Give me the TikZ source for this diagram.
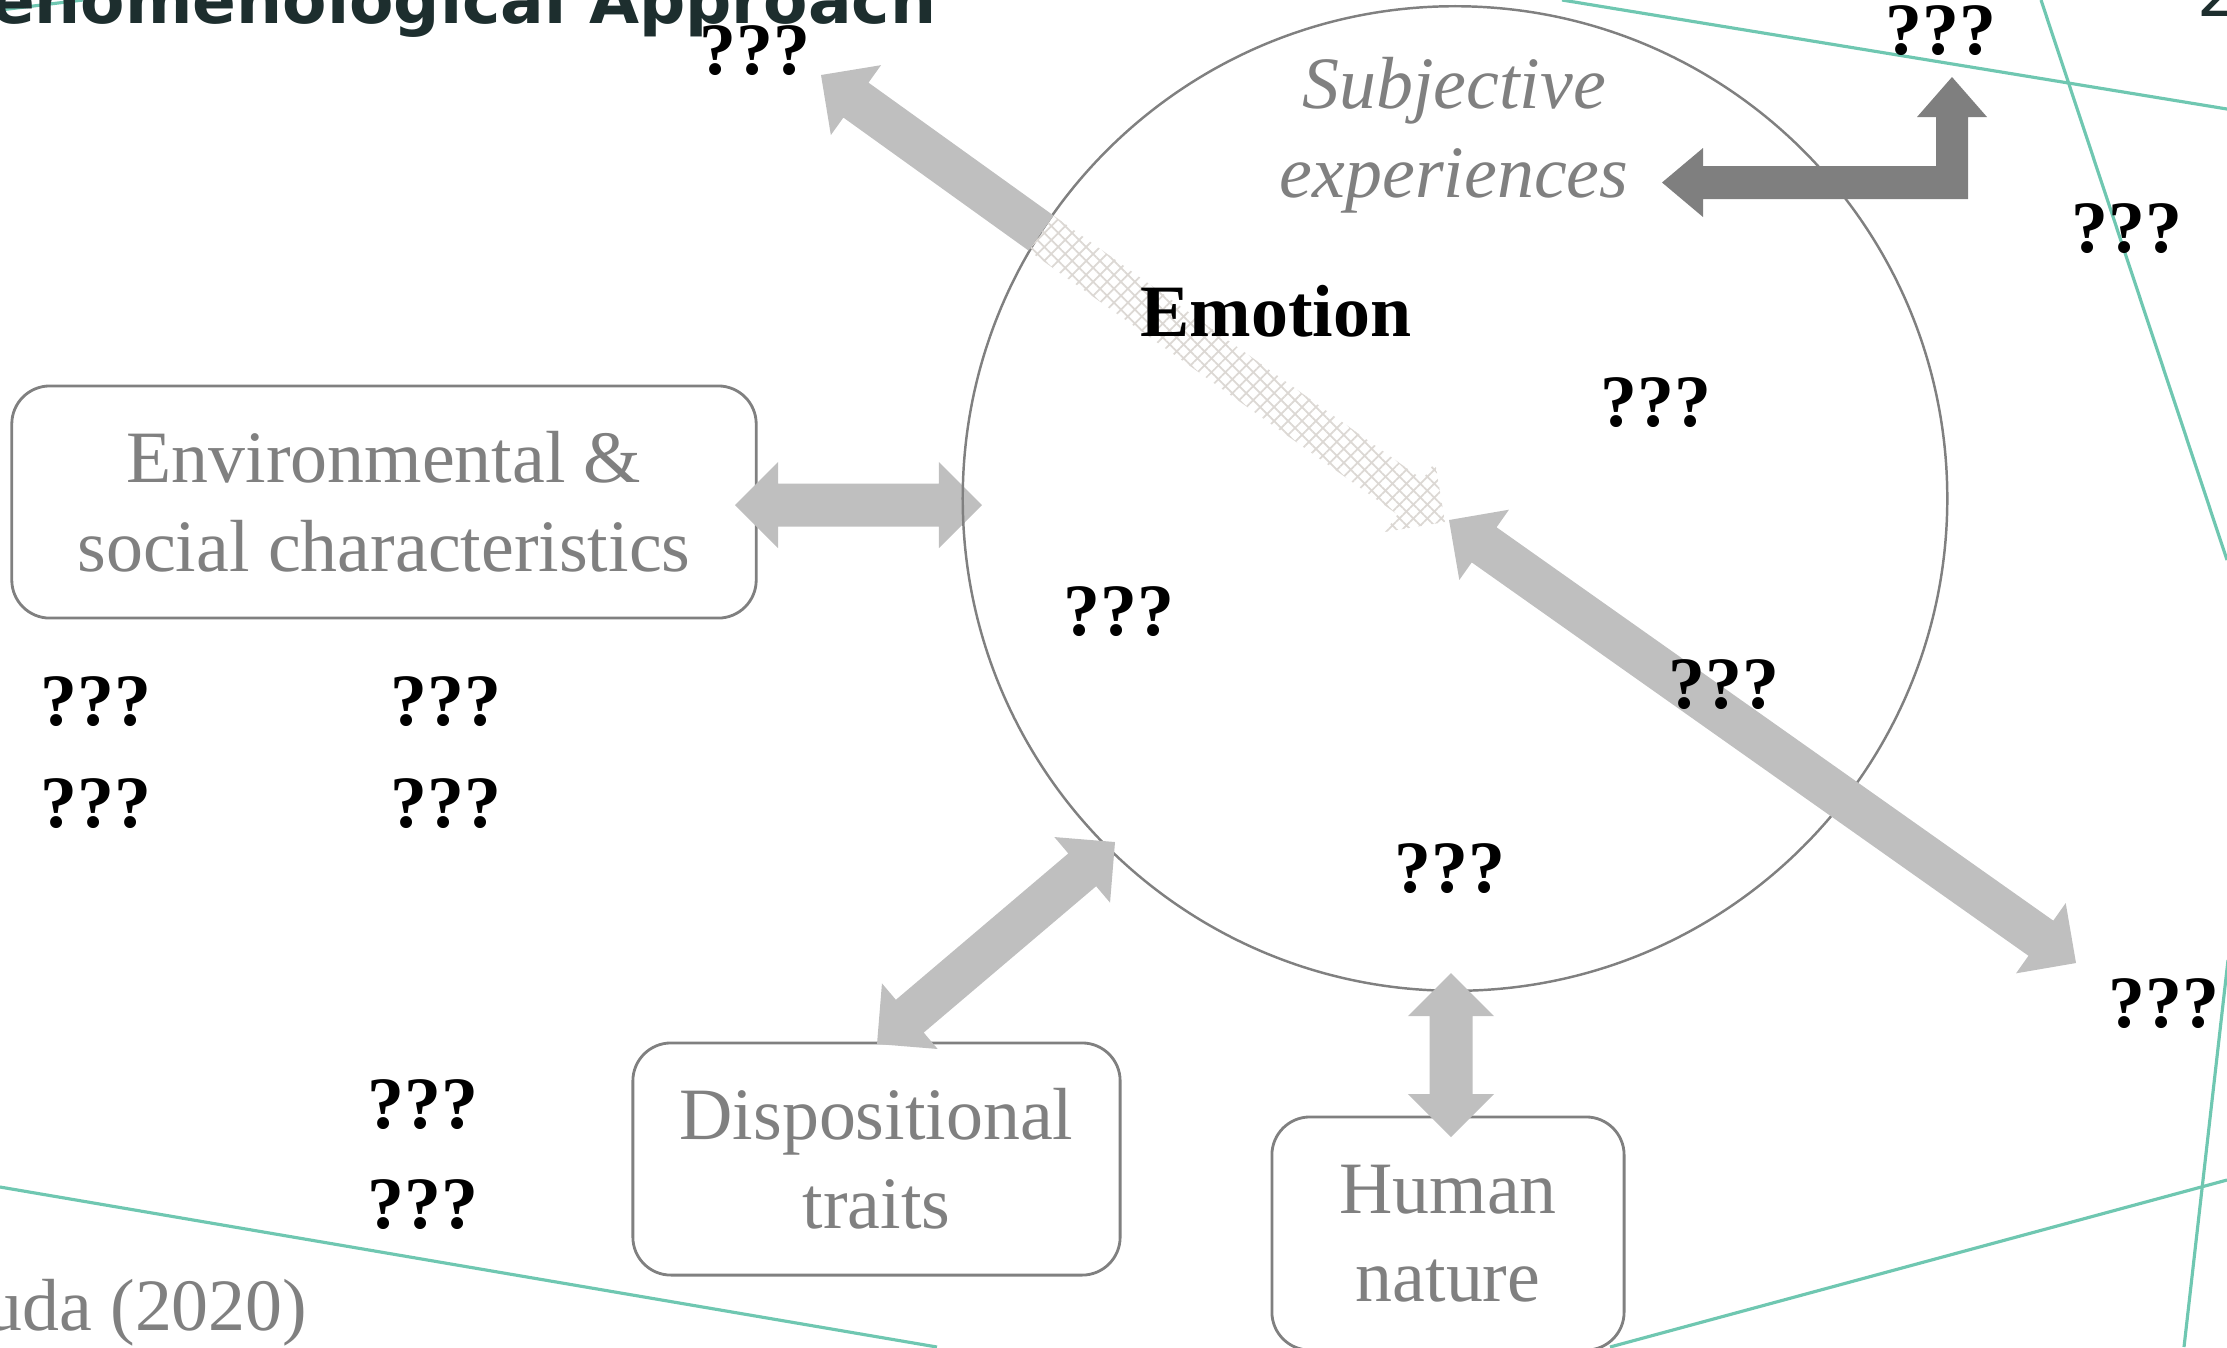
\documentclass[tikz,border=0pt]{standalone}
\usepackage{fontspec}
\setmainfont{Liberation Serif}
\newfontfamily\titlefont{DejaVu Sans}
\usetikzlibrary{calc,patterns.meta}
\definecolor{tealline}{HTML}{6FC7B1}
\definecolor{lightarrow}{HTML}{BFBFBF}
\definecolor{darkarrow}{HTML}{7F7F7F}
\definecolor{labelgray}{HTML}{808080}
\definecolor{hatchgray}{HTML}{DCD8D4}
\definecolor{titleink}{HTML}{1D2E2E}

\newcommand{\shaftw}{0.215cm}
\newcommand{\headw}{0.43cm}
\newcommand{\headlen}{0.43cm}
\newcommand{\twowayarrow}[3][]{%
  \coordinate (tw-a) at (#2); \coordinate (tw-b) at (#3);
  \coordinate (tw-ah) at ($(tw-a)!\headlen!(tw-b)$);
  \coordinate (tw-bh) at ($(tw-b)!\headlen!(tw-a)$);
  \fill[#1] (tw-a) -- ($(tw-ah)!\headw!90:(tw-b)$) -- ($(tw-ah)!\shaftw!90:(tw-b)$)
    -- ($(tw-bh)!\shaftw!-90:(tw-a)$) -- ($(tw-bh)!\headw!-90:(tw-a)$) -- (tw-b)
    -- ($(tw-bh)!\headw!90:(tw-a)$) -- ($(tw-bh)!\shaftw!90:(tw-a)$)
    -- ($(tw-ah)!\shaftw!-90:(tw-b)$) -- ($(tw-ah)!\headw!-90:(tw-b)$) -- cycle;}
\newcommand{\onewayarrow}[3][]{%
  \coordinate (ow-a) at (#2); \coordinate (ow-b) at (#3);
  \coordinate (ow-bh) at ($(ow-b)!\headlen!(ow-a)$);
  \fill[#1] ($(ow-a)!\shaftw!90:(ow-b)$) -- ($(ow-bh)!\shaftw!-90:(ow-a)$)
    -- ($(ow-bh)!\headw!-90:(ow-a)$) -- (ow-b) -- ($(ow-bh)!\headw!90:(ow-a)$)
    -- ($(ow-bh)!\shaftw!90:(ow-a)$) -- ($(ow-a)!\shaftw!-90:(ow-b)$) -- cycle;}

\tikzset{
  factor/.style={draw=labelgray, line width=0.8pt, rounded corners=0.38cm, fill=white,
    text=labelgray, align=center, inner sep=0pt, font=\fontsize{21}{25.2}\selectfont},
  qmark/.style={anchor=base, inner sep=0pt, font=\bfseries\fontsize{21}{25.2}\selectfont},
  stripe/.style={draw=tealline, line width=0.9pt},
  hatched/.style={pattern={Hatch[angle=45,distance=2.8pt,line width=0.5pt]}, pattern color=hatchgray}
}

\begin{document}
\begin{tikzpicture}[x=0.01cm, y=-0.01cm]
  \useasboundingbox (0,0) rectangle (2227,1347);
  \draw[stripe] (0,10) -- (83,0);
  \draw[stripe] (1562,0) -- (2227,109);
  \draw[stripe] (2041,0) -- (2227,560);
  \draw[stripe] (2228,960) -- (2184,1347);
  \draw[stripe] (1610,1347) -- (2227,1180);
  \draw[stripe] (0,1187) -- (937,1347);

  \node[anchor=base east, inner sep=0pt, text=titleink, font=\titlefont\bfseries\fontsize{18.4}{20}\selectfont] (title) at (937,23) {enomenological Approach};
  \node[anchor=base west, inner sep=0pt, text=titleink, font=\titlefont\fontsize{18}{20}\selectfont] (pageno) at (2197,16) {2};

  \node[factor, minimum width=7.44cm, minimum height=2.32cm] (env) at (384,502) {Environmental \&\\social characteristics};
  \node[factor, minimum width=4.87cm, minimum height=2.32cm] (disp) at (876.5,1159) {Dispositional\\traits};
  \node[factor, minimum width=3.52cm, minimum height=2.33cm] (human) at (1448,1233.5) {Human\\nature};

  \coordinate (envtip) at (735,505);    \coordinate (emow) at (982,505);
  \coordinate (disptip) at (877,1044);  \coordinate (emosw) at (1115,842);
  \coordinate (emos) at (1451,973);     \coordinate (humantip) at (1451,1137);
  \coordinate (emonw) at (1041,233);    \coordinate (nwtip) at (821,75);
  \coordinate (innertip) at (1445,522);
  \coordinate (emoc) at (1449,520);     \coordinate (setip) at (2076,963);
  \coordinate (subjtip) at (1662,182.5); \coordinate (netip) at (1952,77);

  \twowayarrow[lightarrow]{envtip}{emow}
  \node[circle, draw=labelgray, line width=0.7pt, minimum size=9.84cm, inner sep=0pt] (emo) at (1455,498.5) {};

  \onewayarrow[hatched]{emonw}{innertip}
  \onewayarrow[lightarrow]{emonw}{nwtip}
  \twowayarrow[lightarrow]{emoc}{setip}
  \twowayarrow[lightarrow]{disptip}{emosw}
  \twowayarrow[lightarrow]{emos}{humantip}
  \fill[darkarrow] (subjtip) -- ++(41,-34.5) -- ++(0,18) -- ($(netip)+(-16,89)$) -- ($(netip)+(-16,40)$)
    -- ($(netip)+(-35,40)$) -- (netip) -- ($(netip)+(35,40)$) -- ($(netip)+(16,40)$)
    -- ($(netip)+(16,122)$) -- ($(subjtip)+(41,16.5)$) -- ($(subjtip)+(41,34.5)$) -- cycle;

  \node[anchor=base, inner sep=0pt, font=\bfseries\fontsize{21}{25.2}\selectfont] (emotext) at (1276,336) {Emotion};
  \node[align=center, inner sep=0pt, text=labelgray, font=\itshape\fontsize{21}{25.2}\selectfont] (subj) at (1454,135.5) {Subjective\\experiences};
  \node[anchor=base east, inner sep=0pt, text=labelgray, font=\fontsize{21}{25.2}\selectfont] (cite) at (308,1330) {uda (2020)};

  \foreach \n/\x/\y in {1/755/74, 2/1941/54, 3/2127/252, 4/1656/426, 5/1119/635, 6/1724/708,
      7/1450/892, 8/2164/1027, 9/96/725, 10/446/725, 11/96/827, 12/446/827, 13/423/1128, 14/423/1228}
    \node[qmark] (q\n) at (\x,\y) {???};
\end{tikzpicture}
\end{document}
